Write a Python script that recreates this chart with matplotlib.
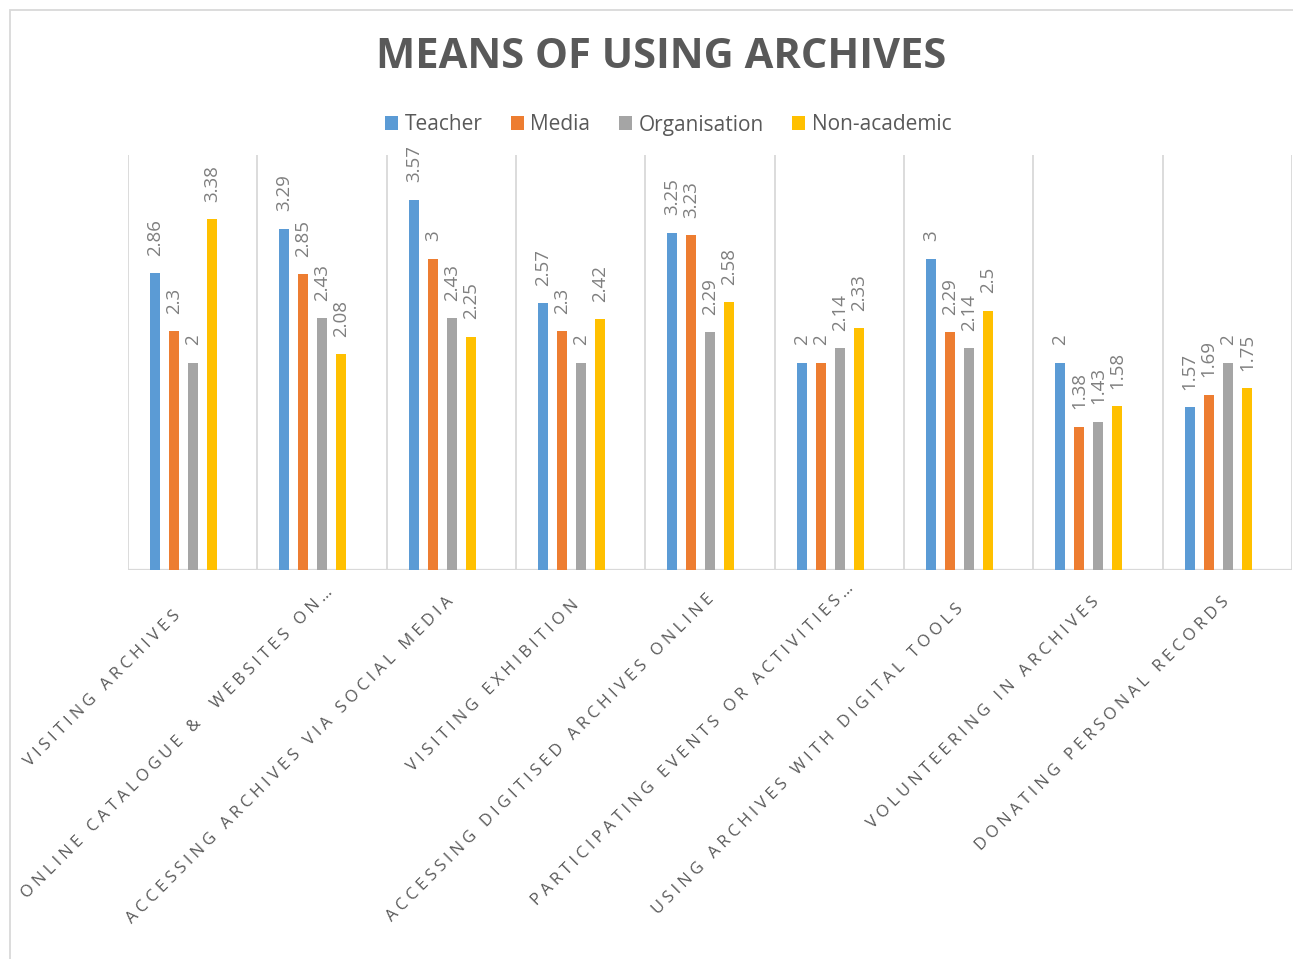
import numpy as np
import matplotlib
matplotlib.use("Agg")
import matplotlib.pyplot as plt
from matplotlib.patches import Rectangle

# Data
categories = [
    "VISITING ARCHIVES",
    "ONLINE CATALOGUE &  WEBSITES ON\u2026",
    "ACCESSING ARCHIVES VIA SOCIAL MEDIA",
    "VISITING EXHIBITION",
    "ACCESSING DIGITISED ARCHIVES ONLINE",
    "PARTICIPATING EVENTS OR ACTIVITIES\u2026",
    "USING ARCHIVES WITH DIGITAL TOOLS",
    "VOLUNTEERING IN ARCHIVES",
    "DONATING PERSONAL RECORDS",
]
series_names = ["Teacher", "Media", "Organisation", "Non-academic"]
teacher = [2.86, 3.29, 3.57, 2.57, 3.25, 2.00, 3.00, 2.00, 1.57]
media = [2.30, 2.85, 3.00, 2.30, 3.23, 2.00, 2.29, 1.38, 1.69]
organisation = [2.00, 2.43, 2.43, 2.00, 2.29, 2.14, 2.14, 1.43, 2.00]
non_academic = [3.38, 2.08, 2.25, 2.42, 2.58, 2.33, 2.50, 1.58, 1.75]
colors = ["#5B9BD5", "#ED7D31", "#A5A5A5", "#FFC000"]

# small along-the-line nudges (px) so the slanted labels sit like the original
label_shift = [-20, 13, 0, -5, 3, 18, -10, 0, 0]

FONT = ["Open Sans", "DejaVu Sans"]
plt.rcParams["font.family"] = FONT

W, H = 1293, 959
fig = plt.figure(figsize=(W / 100, H / 100), dpi=100)
ax = fig.add_axes([128 / W, 1 - 570 / H, 1164 / W, 415 / H])

x = np.arange(len(categories))
width = 0.077
step = 0.147
for k, (name, vals) in enumerate(zip(series_names, [teacher, media, organisation, non_academic])):
    pos = x - 0.07 + (k - 1.5) * step
    ax.bar(pos, vals, width=width, color=colors[k], label=name, zorder=3)
    for xp, v in zip(pos, vals):
        ax.annotate(f"{v:g}", (xp, v), xytext=(0, 12.5), textcoords="offset points",
                    rotation=90, ha="center", va="bottom", fontsize=13.5, color="#7f7f7f")

ax.set_xlim(-0.5, len(categories) - 0.5)
ax.set_ylim(0, 4)
ax.vlines(np.arange(-0.5, len(categories)), 0, 4, color="#d9d9d9", lw=1.3, zorder=1)
ax.axhline(0, color="#d9d9d9", lw=1.6, zorder=2)
for s in ax.spines.values():
    s.set_visible(False)
ax.set_xticks([])
ax.set_yticks([])


def spaced(s):
    # Excel draws these labels with wide letter spacing
    return "\u2005".join(s)


for i, lab in enumerate(categories):
    s = label_shift[i] / np.sqrt(2)
    dx = (2 + s) * 72 / 100
    dy = (-32 + s) * 72 / 100
    ax.annotate(spaced(lab), (i, 0), xytext=(dx, dy), textcoords="offset points",
                rotation=45, rotation_mode="anchor", ha="right", va="baseline",
                fontsize=12, color="#595959", annotation_clip=False)

fig.text(0.5 + 15 / W, 1 - 58 / H, "MEANS OF USING ARCHIVES", ha="center", va="center",
         fontsize=30, fontweight="bold", color="#595959")

handles, labels = ax.get_legend_handles_labels()
fig.legend(handles, labels, loc="center", bbox_to_anchor=(668 / W, 1 - 125 / H), ncol=4,
           frameon=False, fontsize=15, handlelength=0.65, handleheight=0.65,
           handletextpad=0.3, columnspacing=1.35, labelcolor="#595959")

# chart frame
fig.patches.append(Rectangle((10 / W, -0.1), 1.2, 1.1 - 10 / H, transform=fig.transFigure,
                             fill=False, edgecolor="#d9d9d9", lw=1.3))

fig.savefig("out.png", dpi=100)
